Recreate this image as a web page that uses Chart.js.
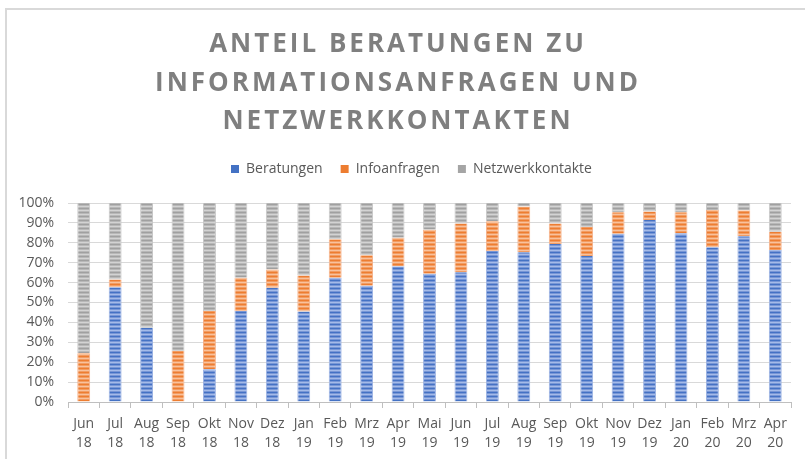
<!DOCTYPE html>
<html>
<head>
<meta charset="utf-8">
<script src="https://cdn.jsdelivr.net/npm/chart.js@4/dist/chart.umd.min.js"></script>
<style>
  html, body { margin: 0; padding: 0; background: #fff; }
  #wrap { position: relative; width: 805px; height: 459px; }
  #frame { position: absolute; left: 5px; top: 8px; right: -10px; bottom: -10px;
           border-left: 2px solid #d9d9d9; border-top: 2px solid #d9d9d9; }
  canvas { position: absolute; left: 0; top: 0; }
</style>
</head>
<body>
<div id="wrap">
  <div id="frame"></div>
  <canvas id="myChart" width="805" height="459"></canvas>
</div>
<script>
// chart data (percent shares per month)
const titleLines = ['ANTEIL BERATUNGEN ZU', 'INFORMATIONSANFRAGEN UND', 'NETZWERKKONTAKTEN'];
const months = [
    ['Jun', '18'], ['Jul', '18'], ['Aug', '18'], ['Sep', '18'], ['Okt', '18'], ['Nov', '18'], ['Dez', '18'],
    ['Jan', '19'], ['Feb', '19'], ['Mrz', '19'], ['Apr', '19'], ['Mai', '19'], ['Jun', '19'], ['Jul', '19'],
    ['Aug', '19'], ['Sep', '19'], ['Okt', '19'], ['Nov', '19'], ['Dez', '19'],
    ['Jan', '20'], ['Feb', '20'], ['Mrz', '20'], ['Apr', '20']
];
const beratungen = [0, 57.7, 37.3, 0, 16.4, 45.7, 57.4, 45.5, 62.4, 58.4, 68.2, 64.4, 65.2, 75.9, 75.3, 79.4, 73.4, 84.5, 91.5, 84.8, 77.8, 83.3, 76.4];
const infoanfragen = [24.5, 3.9, 0, 25.6, 29.3, 16.7, 9.2, 18.1, 19.4, 15.4, 14.4, 22.2, 24.5, 14.9, 23.0, 10.3, 14.6, 10.8, 4.2, 10.5, 18.7, 13.0, 9.1];
const netzwerk = [75.5, 38.4, 62.7, 74.4, 54.3, 37.6, 33.4, 36.4, 18.2, 26.2, 17.4, 13.4, 10.3, 9.2, 1.7, 10.3, 12.0, 4.7, 4.3, 4.7, 3.5, 3.7, 14.5];
const yTicks = [0, 10, 20, 30, 40, 50, 60, 70, 80, 90, 100];

const labelFont = {family: '"Open Sans", sans-serif', size: 14, lineHeight: 1.4};
const labelColor = '#595959';

// striped fill like the excel pattern
function stripes(colors) {
    const c = document.createElement('canvas');
    c.width = 4;
    c.height = colors.length;
    const cx = c.getContext('2d');
    colors.forEach((col, i) => {
        cx.fillStyle = col;
        cx.fillRect(0, i, 4, 1);
    });
    return document.getElementById('myChart').getContext('2d').createPattern(c, 'repeat');
}

const spacedTitle = {
    id: 'spacedTitle',
    afterDraw(chart) {
        const ctx = chart.ctx;
        ctx.save();
        ctx.font = 'bold 26px "Open Sans"';
        ctx.fillStyle = '#7f7f7f';
        ctx.textAlign = 'center';
        ctx.textBaseline = 'middle';
        ctx.letterSpacing = '3px';
        titleLines.forEach((t, i) => ctx.fillText(t, 398, 45 + i * 38.5));
        ctx.restore();
    }
};

// empty axis that only takes up room
function spacer(position, size) {
    return {
        type: 'linear',
        position: position,
        afterFit(scale) {
            if (scale.isHorizontal()) scale.height = size;
            else scale.width = size;
        },
        grid: {display: false},
        border: {display: false},
        ticks: {display: false}
    };
}

const ctx = document.getElementById('myChart').getContext('2d');
const data = {
    labels: months,
    datasets: [{
        label: 'Beratungen',
        data: beratungen,
        xAxisID: 'x',
        yAxisID: 'y',
        backgroundColor: stripes(['#4472c4', '#7896d6', '#a4bbe8', '#7896d6']),
        borderColor: '#9cb3e3',
        borderWidth: {left: 1, right: 1, top: 0, bottom: 0}
    }, {
        label: 'Infoanfragen',
        data: infoanfragen,
        xAxisID: 'x',
        yAxisID: 'y',
        backgroundColor: stripes(['#ed7d31', '#f29c62', '#f8c29d', '#f29c62']),
        borderColor: '#f5b088',
        borderWidth: {left: 1, right: 1, top: 0, bottom: 0}
    }, {
        label: 'Netzwerkkontakte',
        data: netzwerk,
        xAxisID: 'x',
        yAxisID: 'y',
        backgroundColor: stripes(['#a0a0a0', '#b8b8b8', '#d3d3d3', '#b8b8b8']),
        borderColor: '#c8c8c8',
        borderWidth: {left: 1, right: 1, top: 0, bottom: 0}
    }]
};

const config = {
    type: 'bar',
    data: data,
    options: {
        responsive: false,
        animation: false,
        layout: {padding: {top: 144, right: 0, left: 18, bottom: 0}},
        datasets: {bar: {barPercentage: 0.41, categoryPercentage: 1}},
        plugins: {
            title: {display: false},
            tooltip: {enabled: false},
            legend: {
                position: 'top',
                labels: {
                    font: {family: '"Open Sans", sans-serif', size: 14},
                    color: labelColor,
                    boxWidth: 8,
                    boxHeight: 8,
                    padding: 18,
                    generateLabels(chart) {
                        const solid = ['#4472c4', '#ed7d31', '#a5a5a5'];
                        return chart.data.datasets.map((ds, i) => ({
                            text: ds.label,
                            fillStyle: solid[i],
                            strokeStyle: solid[i],
                            lineWidth: 0,
                            fontColor: labelColor,
                            datasetIndex: i
                        }));
                    }
                }
            }
        },
        scales: {
            x: {
                type: 'category',
                position: 'bottom',
                stacked: true,
                afterFit(scale) {
                    scale.height = 57;
                },
                grid: {drawOnChartArea: false, drawTicks: true, tickLength: 6, color: '#bfbfbf', offset: true},
                border: {color: '#bfbfbf', width: 1},
                ticks: {font: labelFont, color: labelColor, maxRotation: 0, autoSkip: false, padding: 6}
            },
            y: {
                type: 'linear',
                position: 'left',
                stacked: true,
                min: 0,
                max: 100,
                afterBuildTicks(scale) {
                    scale.ticks = yTicks.map(v => ({value: v}));
                },
                afterFit(scale) {
                    scale.width = 50;
                },
                grid: {color: '#d9d9d9', drawTicks: false},
                border: {display: false},
                ticks: {
                    font: {family: '"Open Sans", sans-serif', size: 14},
                    color: labelColor,
                    padding: 14,
                    autoSkip: false,
                    callback: v => v + '%'
                }
            },
            gapTop: spacer('top', 17),
            gapRight: spacer('right', 14)
        }
    },
    plugins: [spacedTitle]
};
const myChart = new Chart(ctx, config);
</script>
</body>
</html>
